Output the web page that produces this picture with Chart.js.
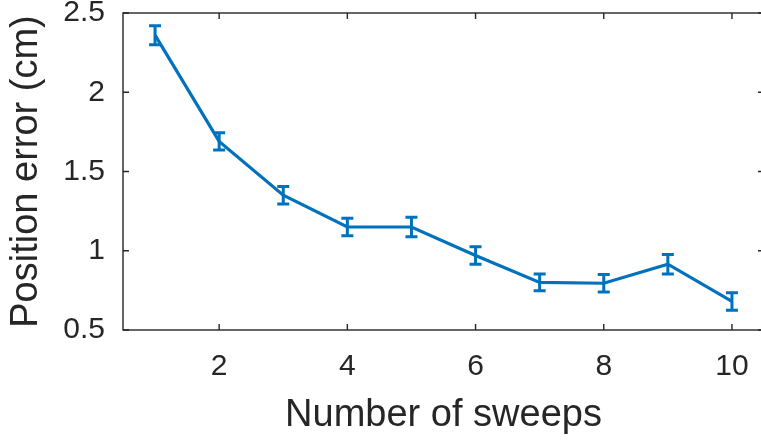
<!DOCTYPE html>
<html>
<head>
<meta charset="utf-8">
<script src="https://cdn.jsdelivr.net/npm/chart.js@4/dist/chart.umd.min.js"></script>
<style>
  html, body { margin: 0; padding: 0; background: #fff; overflow: hidden; }
  #wrap { width: 768px; height: 442px; position: relative; }
</style>
</head>
<body>
<div id="wrap"><canvas id="errChart"></canvas></div>
<script>
var sweeps = [1, 2, 3, 4, 5, 6, 7, 8, 9, 10];
var posError = [2.36, 1.69, 1.35, 1.15, 1.15, 0.97, 0.80, 0.795, 0.915, 0.68];
var posErrorBar = [0.06, 0.055, 0.055, 0.055, 0.062, 0.055, 0.053, 0.055, 0.062, 0.055];
var xTicks = [2, 4, 6, 8, 10];
var yTicks = [0.5, 1, 1.5, 2, 2.5];

var lineColor = '#0072BD';
var axisColor = '#262626';
var fontFamily = '"Liberation Sans", Arial, Helvetica, sans-serif';

function setTicks(values){
    return function(scale){
        scale.ticks = values.map(function(v){ return { value: v }; });
    };
}

var errorBars = {
    id: 'errorBars',
    afterDatasetsDraw: function(chart){
        var ctx = chart.ctx;
        var xs = chart.scales.x, ys = chart.scales.y;
        ctx.save();
        ctx.strokeStyle = lineColor;
        ctx.lineWidth = 3;
        for (var i = 0; i < sweeps.length; i++){
            var px = xs.getPixelForValue(sweeps[i]);
            var top = ys.getPixelForValue(posError[i] + posErrorBar[i]);
            var bot = ys.getPixelForValue(posError[i] - posErrorBar[i]);
            ctx.beginPath();
            ctx.moveTo(px, top); ctx.lineTo(px, bot);
            ctx.moveTo(px - 6, top); ctx.lineTo(px + 6, top);
            ctx.moveTo(px - 6, bot); ctx.lineTo(px + 6, bot);
            ctx.stroke();
        }
        ctx.restore();
    }
};

var boxAxes = {
    id: 'boxAxes',
    afterDraw: function(chart){
        var ctx = chart.ctx;
        var a = chart.chartArea;
        var xs = chart.scales.x, ys = chart.scales.y;
        var tl = 6;
        ctx.save();
        ctx.strokeStyle = axisColor;
        ctx.lineWidth = 1.4;
        ctx.strokeRect(a.left, a.top, a.right - a.left, a.bottom - a.top);
        ctx.beginPath();
        xTicks.forEach(function(v){
            var p = xs.getPixelForValue(v);
            ctx.moveTo(p, a.bottom); ctx.lineTo(p, a.bottom - tl);
            ctx.moveTo(p, a.top); ctx.lineTo(p, a.top + tl);
        });
        yTicks.forEach(function(v){
            var p = ys.getPixelForValue(v);
            ctx.moveTo(a.left, p); ctx.lineTo(a.left + tl, p);
            ctx.moveTo(a.right, p); ctx.lineTo(a.right - tl, p);
        });
        ctx.stroke();
        ctx.restore();
    }
};

new Chart(document.getElementById('errChart'), {
    type: 'line',
    data: {
        datasets: [{
            data: sweeps.map(function(s, i){ return { x: s, y: posError[i] }; }),
            borderColor: lineColor,
            borderWidth: 3.2,
            pointRadius: 0,
            tension: 0,
            fill: false
        }]
    },
    options: {
        responsive: true,
        maintainAspectRatio: false,
        animation: false,
        layout: { padding: { top: 13, right: 4, bottom: 0, left: 0 } },
        plugins: { legend: { display: false }, tooltip: { enabled: false } },
        scales: {
            x: {
                type: 'linear',
                min: 0.5,
                max: 10.5,
                afterBuildTicks: setTicks(xTicks),
                afterFit: function(s){ s.height = 112; s.paddingLeft = 0; s.paddingRight = 0; },
                grid: { display: false, drawTicks: false },
                border: { display: false },
                ticks: {
                    padding: 19,
                    color: axisColor,
                    font: { family: fontFamily, size: 30 },
                    callback: function(v){ return String(v); }
                },
                title: {
                    display: true,
                    text: 'Number of sweeps',
                    color: axisColor,
                    font: { family: fontFamily, size: 38 },
                    padding: { top: 0, bottom: 4 }
                }
            },
            y: {
                min: 0.5,
                max: 2.5,
                afterBuildTicks: setTicks(yTicks),
                afterFit: function(s){ s.width = 123; s.paddingTop = 0; s.paddingBottom = 0; },
                grid: { display: false, drawTicks: false },
                border: { display: false },
                ticks: {
                    padding: 18,
                    color: axisColor,
                    font: { family: fontFamily, size: 30 },
                    callback: function(v){ return String(v); }
                },
                title: {
                    display: true,
                    text: 'Position error (cm)',
                    color: axisColor,
                    font: { family: fontFamily, size: 38 },
                    padding: { top: 4, bottom: 0 }
                }
            }
        }
    },
    plugins: [errorBars, boxAxes]
});
</script>
</body>
</html>
